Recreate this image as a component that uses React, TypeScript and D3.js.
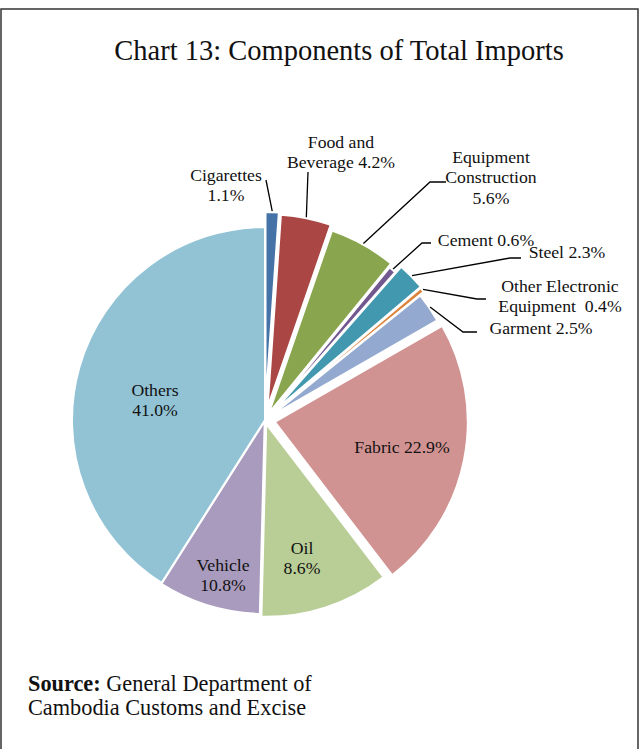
import React from "react";
import * as d3 from "d3";

const categories = [
  "Cigarettes",
  "Food and Beverage",
  "Equipment Construction",
  "Cement",
  "Steel",
  "Other Electronic Equipment",
  "Garment",
  "Fabric",
  "Oil",
  "Vehicle",
  "Others",
];
// slice sizes as drawn in the picture (the Oil and Vehicle wedges are drawn at 10.8 / 8.6)
const values = [1.1, 4.2, 5.6, 0.6, 2.3, 0.4, 2.5, 22.9, 10.8, 8.6, 41.0];
// label texts as printed on the chart
const labelLines = [
  ["Cigarettes", "1.1%"],
  ["Food and", "Beverage 4.2%"],
  ["Equipment", "Construction", "5.6%"],
  ["Cement 0.6%"],
  ["Steel 2.3%"],
  ["Other Electronic", "Equipment  0.4%"],
  ["Garment 2.5%"],
  ["Fabric 22.9%"],
  ["Oil", "8.6%"],
  ["Vehicle", "10.8%"],
  ["Others", "41.0%"],
];
const colors = [
  "#4573A7",
  "#AA4643",
  "#89A54E",
  "#71588F",
  "#4198AF",
  "#DB843D",
  "#93A9CF",
  "#D19392",
  "#B9CD96",
  "#A99BBD",
  "#92C3D5",
];

// layout / style configuration
const W = 641;
const H = 749;
const CX = 265;
const CY = 420;
const R = 193;
const explode = [15, 13, 8, 4, 12, 11, 6, 10, 4, 1, 0];
// label layout: text centre and leader polyline (after the slice anchor)
const labelLayout: { x: number; y: number; elbow: [number, number][] | null }[] = [
  { x: 226, y: 175, elbow: [[266, 180]] },
  { x: 341, y: 142, elbow: [[308, 172]] },
  { x: 491, y: 157, elbow: [[430, 182], [446, 182]] },
  { x: 486, y: 240, elbow: [[422, 243], [431, 243]] },
  { x: 567, y: 252, elbow: [[510, 258], [521, 258]] },
  { x: 560, y: 286, elbow: [[477, 299], [486, 299]] },
  { x: 541, y: 328, elbow: [[463, 332], [477, 332]] },
  { x: 402, y: 447, elbow: null },
  { x: 302, y: 548, elbow: null },
  { x: 223, y: 565, elbow: null },
  { x: 155, y: 390, elbow: null },
];

const FONT = "'Liberation Serif', 'Times New Roman', serif";

export default function App() {
  const data = categories.map((c, i) => ({ name: c, value: values[i], i }));
  const pie = d3
    .pie<any>()
    .sort(null)
    .value((d: any) => d.value)
    .startAngle(0)
    .endAngle(Math.PI * 2);
  const arcs = pie(data);
  const arc = d3.arc<any>().innerRadius(0).outerRadius(R);
  const lineGen = d3.line();

  return (
    <div style={{ position: "absolute", left: 0, top: 0 }}>
      <svg width={W} height={H} style={{ display: "block", background: "#fff" }}>
        <rect x={1} y={9} width={637} height={H} fill="#fff" stroke="#333" strokeWidth={1.5} />
        <text
          x={339}
          y={60}
          textAnchor="middle"
          fontFamily={FONT}
          fontSize={28.5}
          fill="#111"
        >
          Chart 13: Components of Total Imports
        </text>
        <g transform={`translate(${CX},${CY})`}>
          {arcs.map((a: any, i: number) => {
            const mid = (a.startAngle + a.endAngle) / 2;
            const dx = Math.sin(mid) * explode[i];
            const dy = -Math.cos(mid) * explode[i];
            return (
              <path
                key={i}
                d={arc(a) as string}
                transform={`translate(${dx},${dy})`}
                fill={colors[i]}
                stroke="#fff"
                strokeWidth={2}
                strokeLinejoin="round"
              />
            );
          })}
        </g>
        {arcs.map((a: any, i: number) => {
          const lay = labelLayout[i];
          if (!lay.elbow) return null;
          const mid = (a.startAngle + a.endAngle) / 2;
          const rr = R + explode[i] + 1;
          const start: [number, number] = [CX + Math.sin(mid) * rr, CY - Math.cos(mid) * rr];
          const pts: [number, number][] = [start, ...lay.elbow];
          return (
            <path
              key={"l" + i}
              d={lineGen(pts) as string}
              fill="none"
              stroke="#000"
              strokeWidth={1.3}
            />
          );
        })}
        {labelLines.map((lines, i) => {
          const lay = labelLayout[i];
          return (
            <text
              key={"t" + i}
              textAnchor="middle"
              fontFamily={FONT}
              fontSize={17.7}
              fill="#111"
            >
              {lines.map((ln, j) => (
                <tspan key={j} x={lay.x} y={lay.y + j * 20.5} dy="0.33em" style={{ whiteSpace: "pre" }}>
                  {ln}
                </tspan>
              ))}
            </text>
          );
        })}
        <text x={28} y={691} fontFamily={FONT} fontSize={22.3} fill="#111">
          <tspan fontWeight="bold">Source:</tspan> General Department of
        </text>
        <text x={28} y={715} fontFamily={FONT} fontSize={22.3} fill="#111">
          Cambodia Customs and Excise
        </text>
      </svg>
    </div>
  );
}
